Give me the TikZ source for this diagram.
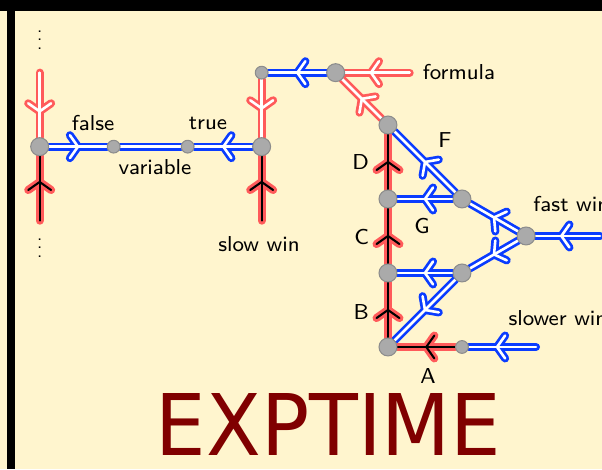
\documentclass[tikz,border=0pt]{standalone}
\usepackage{fontspec}
\usetikzlibrary{decorations.markings, positioning}
\newfontfamily\exptfont{DejaVu Sans}

\definecolor{wireblue}{RGB}{10,60,255}
\definecolor{wirered}{RGB}{255,90,90}
\definecolor{nodegrey}{RGB}{170,170,170}
\definecolor{nodeedge}{RGB}{140,140,140}
\definecolor{cream}{RGB}{255,245,206}
\definecolor{exptred}{RGB}{128,0,0}

\pgfdeclarelayer{wires}
\pgfsetlayers{wires,main}

\tikzset{
    chev/.style n args={3}{postaction={decorate, decoration={markings,
        mark=at position #3 with {\draw[draw=#1, line width=#2, line cap=round, line join=round]
            (-3.1pt,4.4pt) -- (0,0) -- (-3.1pt,-4.4pt);}}}}
}

\begin{document}
\begin{tikzpicture}[
    node distance=1cm,
    font=\sffamily\fontsize{8.3}{10}\selectfont,
    bignode/.style={circle, fill=nodegrey, draw=nodeedge, line width=0.4pt, inner sep=0pt, minimum size=6.9pt},
    smallnode/.style={bignode, minimum size=4.9pt},
    lbl/.style={inner sep=0pt},
    bluewire/.style={draw=white, line width=1pt, line cap=round,
        preaction={draw=wireblue, line width=3.1pt, line cap=round}},
    pinkwire/.style={draw=white, line width=1pt, line cap=round,
        preaction={draw=wirered, line width=3.1pt, line cap=round}},
    hotwire/.style={draw=black, line width=0.8pt, line cap=round,
        preaction={draw=wirered, line width=3.1pt, line cap=round}},
    bluearrow/.style={bluewire, preaction={chev={wireblue}{3.1pt}{#1}}, chev={white}{1pt}{#1}},
    bluearrow/.default=0.5,
    pinkarrow/.style={pinkwire, preaction={chev={wirered}{3.1pt}{#1}}, chev={white}{1pt}{#1}},
    pinkarrow/.default=0.5,
    hotarrow/.style={hotwire, preaction={chev={wirered}{3.1pt}{#1}}, chev={black}{0.8pt}{#1}},
    hotarrow/.default=0.5
]

\useasboundingbox (-5.243,-1.649) rectangle (2.892,4.689);
\fill[black] (-5.243,4.534) rectangle (2.892,4.689);
\fill[black] (-5.142,-1.649) rectangle (-5.041,4.689);

% gadget nodes
\node[bignode] (D) at (0,3) {};
\node[bignode] (G) [below of=D] {};
\node[bignode] (B) [below of=G] {};
\node[bignode] (A) [below of=B] {};
\node[bignode] (Gr) [right of=G] {};
\node[bignode] (Br) [right of=B] {};
\node[smallnode] (Ar) [right of=A] {};
\node[bignode] (Fw) at (1.866,1.5) {};
\node[bignode] (Fm) at (-0.707,3.707) {};
\node[smallnode] (Rt) [left of=Fm] {};
\node[bignode] (R) [below of=Rt] {};
\node[smallnode] (v2) [left of=R] {};
\node[smallnode] (v1) [left of=v2] {};
\node[bignode] (L) [left of=v1] {};

\node[coordinate] (Ltop) [above of=L] {};
\node[coordinate] (Lbot) [below of=L] {};
\node[coordinate] (Rbot) [below of=R] {};
\node[coordinate] (Fin) [right of=Fm] {};
\node[coordinate] (Fwin) [right of=Fw] {};
\node[coordinate] (Sin) [right of=Ar] {};

% labels
\node[lbl] (falsetxt) at (-3.986,3.027) {false};
\node[lbl] (truetxt) at (-2.432,3.027) {true};
\node[lbl] (vartxt) at (-3.149,2.432) {variable};
\node[lbl] (slowtxt) at (-1.743,1.392) {slow win};
\node[lbl] (formtxt) at (0.959,3.716) {formula};
\node[lbl, anchor=east] (Dtxt) at (-0.25,2.5) {D};
\node[lbl, anchor=east] (Ctxt) at (-0.25,1.48) {C};
\node[lbl, anchor=east] (Btxt) at (-0.25,0.47) {B};
\node[lbl] (Ftxt) at (0.770,2.797) {F};
\node[lbl] (Gtxt) at (0.459,1.635) {G};
\node[lbl] (Atxt) at (0.541,-0.392) {A};
\node[lbl, anchor=west] (fasttxt) at (1.959,1.932) {fast win};
\node[lbl, anchor=west] (slowertxt) at (1.622,0.392) {slower win};
\node[lbl, scale=0.82, transform shape] (dotstop) at (-4.707,4.236) {$\vdots$};
\node[lbl, scale=0.82, transform shape] (dotsbot) at (-4.707,1.425) {$\vdots$};
\node[lbl, font=\exptfont\fontsize{32.7}{36}\selectfont, text=exptred,
    xscale=0.94, transform shape] (expt) at (-0.804,-1.05) {EXPTIME};

\begin{pgfonlayer}{wires}
\fill[cream] (-5.243,-1.649) rectangle (2.892,4.689);
% red double wires
\draw[pinkarrow=0.6] (Ltop) -- (L);
\draw[pinkarrow] (Rt) -- (R);
\draw[pinkarrow=0.6] (Fin) -- (Fm);
\draw[pinkarrow] (D) -- (Fm);
% blue wires
\draw[bluearrow] (L) -- (v1);
\draw[bluewire] (v1) -- (v2);
\draw[bluearrow] (R) -- (v2);
\draw[bluearrow] (Fm) -- (Rt);
\draw[bluearrow] (Gr) -- (D);
\draw[bluearrow] (Gr) -- (G);
\draw[bluearrow] (Fw) -- (Gr);
\draw[bluearrow] (Fw) -- (Br);
\draw[bluearrow=0.6] (Fwin) -- (Fw);
\draw[bluearrow] (Br) -- (B);
\draw[bluearrow] (Br) -- (A);
\draw[bluearrow=0.58] (Sin) -- (Ar);
% red/black wires
\draw[hotarrow=0.6] (Lbot) -- (L);
\draw[hotarrow=0.6] (Rbot) -- (R);
\draw[hotarrow] (A) -- (B);
\draw[hotarrow] (B) -- (G);
\draw[hotarrow] (G) -- (D);
\draw[hotarrow] (Ar) -- (A);
\end{pgfonlayer}

\end{tikzpicture}
\end{document}
